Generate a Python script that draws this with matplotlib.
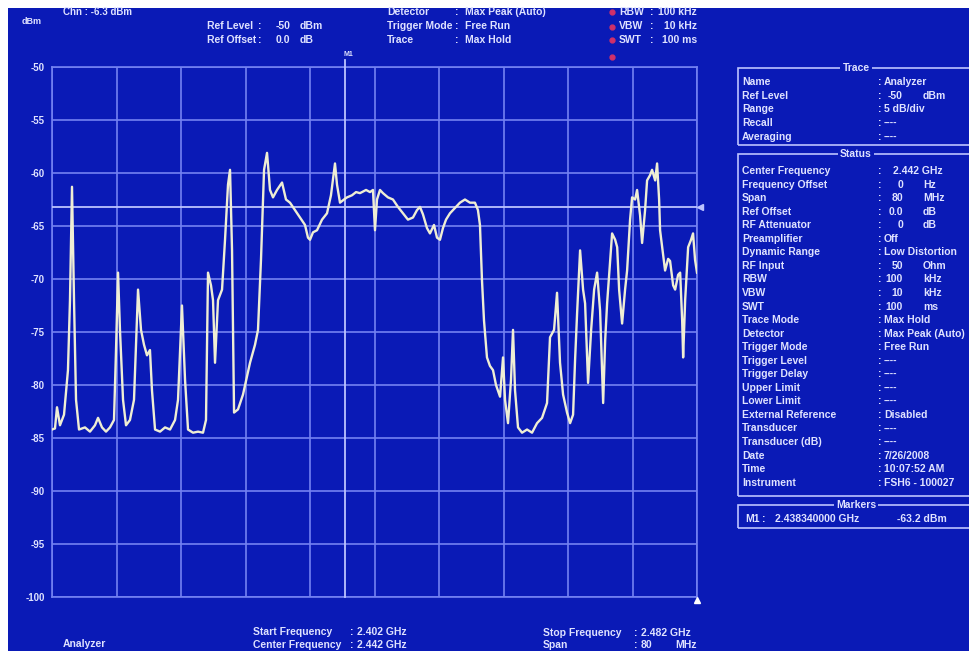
import matplotlib
matplotlib.use("Agg")
import matplotlib.pyplot as plt
from matplotlib.patches import Rectangle
from matplotlib.lines import Line2D

# ---- measured spectrum (max hold) ----
freq_mhz = [
    2402.00, 2402.37, 2402.62, 2402.99, 2403.49, 2403.98, 2404.23, 2404.48, 2404.73, 2404.98,
    2405.35, 2406.09, 2406.71, 2407.33, 2407.71, 2408.20, 2408.70, 2409.19, 2409.69, 2409.94,
    2410.19, 2410.43, 2410.81, 2411.18, 2411.67, 2412.17, 2412.67, 2413.04, 2413.41, 2413.78,
    2414.15, 2414.40, 2414.78, 2415.40, 2416.02, 2416.64, 2417.26, 2417.63, 2418.12, 2418.50,
    2418.87, 2419.49, 2420.11, 2420.73, 2421.10, 2421.35, 2421.72, 2421.97, 2422.22, 2422.59,
    2423.09, 2423.46, 2423.83, 2424.08, 2424.33, 2424.58, 2425.07, 2425.69, 2426.56, 2427.18,
    2427.55, 2427.92, 2428.30, 2428.67, 2429.04, 2429.41, 2429.91, 2430.53, 2431.02, 2431.52,
    2432.14, 2432.76, 2433.38, 2433.75, 2434.00, 2434.37, 2434.87, 2435.49, 2436.11, 2436.60,
    2437.10, 2437.35, 2437.72, 2438.22, 2438.59, 2439.21, 2439.71, 2440.20, 2440.95, 2441.44,
    2441.81, 2442.06, 2442.31, 2442.68, 2443.05, 2443.67, 2444.29, 2444.91, 2445.53, 2446.15,
    2446.77, 2447.27, 2447.64, 2448.01, 2448.51, 2448.88, 2449.38, 2449.75, 2450.12, 2450.49,
    2450.87, 2451.36, 2451.98, 2452.60, 2453.22, 2453.84, 2454.46, 2454.83, 2455.08, 2455.33,
    2455.58, 2455.95, 2456.32, 2456.70, 2457.07, 2457.57, 2457.94, 2458.19, 2458.56, 2458.93,
    2459.18, 2459.43, 2459.80, 2460.30, 2460.92, 2461.54, 2462.16, 2462.78, 2463.40, 2463.77,
    2464.27, 2464.64, 2465.01, 2465.39, 2465.88, 2466.26, 2466.63, 2466.88, 2467.13, 2467.50,
    2467.87, 2468.12, 2468.49, 2468.87, 2469.24, 2469.61, 2469.98, 2470.36, 2470.61, 2470.85,
    2471.23, 2471.47, 2471.85, 2472.10, 2472.34, 2472.71, 2473.08, 2473.33, 2473.70, 2473.95,
    2474.32, 2474.57, 2474.94, 2475.19, 2475.56, 2475.81, 2476.18, 2476.43, 2476.81, 2477.05,
    2477.30, 2477.42, 2477.80, 2478.04, 2478.42, 2478.66, 2479.04, 2479.29, 2479.66, 2479.91,
    2480.16, 2480.28, 2480.53, 2480.90, 2481.26, 2481.51, 2481.76, 2482.00,
]
level_dbm = [
    -84.2, -84.1, -82.1, -83.8, -82.8, -78.6, -72.0, -61.3, -72.0, -81.4,
    -84.2, -84.0, -84.4, -83.8, -83.1, -84.0, -84.4, -84.0, -83.3, -76.7,
    -69.4, -74.8, -81.4, -83.8, -83.3, -81.4, -71.0, -74.8, -76.2, -77.2,
    -76.7, -80.5, -84.2, -84.4, -84.0, -84.2, -83.3, -81.4, -72.5, -79.5,
    -84.2, -84.5, -84.4, -84.5, -83.3, -69.4, -70.6, -72.0, -77.9, -72.0,
    -71.0, -66.3, -61.1, -59.7, -67.3, -82.6, -82.3, -80.9, -77.9, -76.2,
    -74.8, -68.2, -59.7, -58.1, -61.6, -62.3, -61.6, -60.9, -62.5, -62.8,
    -63.5, -64.2, -64.9, -66.1, -66.3, -65.6, -65.4, -64.4, -63.8, -62.1,
    -59.1, -61.1, -62.8, -62.5, -62.3, -62.1, -61.8, -61.9, -61.6, -61.8,
    -61.6, -65.4, -62.5, -61.6, -61.9, -62.3, -62.5, -63.2, -63.8, -64.4,
    -64.2, -63.5, -63.2, -63.9, -65.2, -65.7, -64.9, -66.1, -66.3, -65.2,
    -64.4, -63.8, -63.3, -62.8, -62.5, -62.8, -62.8, -63.5, -64.9, -70.1,
    -73.9, -77.4, -78.2, -78.6, -80.0, -81.1, -77.4, -81.4, -83.6, -79.5,
    -74.8, -80.5, -84.0, -84.5, -84.2, -84.5, -83.6, -83.1, -81.7, -75.5,
    -74.8, -71.3, -77.9, -80.9, -82.6, -83.6, -82.8, -77.6, -73.2, -67.3,
    -71.0, -72.3, -79.8, -74.8, -71.0, -69.4, -73.0, -81.7, -75.8, -72.3,
    -68.2, -65.7, -66.3, -67.0, -71.0, -74.2, -71.0, -69.2, -64.4, -62.3,
    -62.5, -61.6, -64.0, -66.6, -63.5, -60.7, -60.2, -59.7, -60.7, -59.1,
    -62.5, -65.4, -67.7, -69.2, -68.1, -68.3, -70.6, -71.0, -69.6, -69.4,
    -73.9, -77.4, -72.0, -67.0, -66.3, -65.7, -68.2, -69.4,
]

# ---- display settings ----
y_ticks = [-50, -55, -60, -65, -70, -75, -80, -85, -90, -95, -100]
y_tick_labels = ["-50", "-55", "-60", "-65", "-70", "-75", "-80", "-85", "-90", "-95", "-100"]
start_mhz, stop_mhz = 2402.0, 2482.0
x_divisions = 10
marker_freq_mhz = 2438.34
marker_level_dbm = -63.2

header_left = [("Ref Level", ":", "-50", "dBm"), ("Ref Offset", ":", "0.0", "dB")]
header_mid = [("Detector", "Max Peak (Auto)"), ("Trigger Mode", "Free Run"), ("Trace", "Max Hold")]
header_right = [("RBW", "100 kHz"), ("VBW", "10 kHz"), ("SWT", "100 ms")]

trace_rows = [
    ("Name", "Analyzer", None),
    ("Ref Level", "-50", "dBm"),
    ("Range", "5 dB/div", None),
    ("Recall", "----", None),
    ("Averaging", "----", None),
]
status_rows = [
    ("Center Frequency", "2.442 GHz", "wide"),
    ("Frequency Offset", "0", "Hz"),
    ("Span", "80", "MHz"),
    ("Ref Offset", "0.0", "dB"),
    ("RF Attenuator", "0", "dB"),
    ("Preamplifier", "Off", None),
    ("Dynamic Range", "Low Distortion", None),
    ("RF Input", "50", "Ohm"),
    ("RBW", "100", "kHz"),
    ("VBW", "10", "kHz"),
    ("SWT", "100", "ms"),
    ("Trace Mode", "Max Hold", None),
    ("Detector", "Max Peak (Auto)", None),
    ("Trigger Mode", "Free Run", None),
    ("Trigger Level", "----", None),
    ("Trigger Delay", "----", None),
    ("Upper Limit", "----", None),
    ("Lower Limit", "----", None),
    ("External Reference", "Disabled", None),
    ("Transducer", "----", None),
    ("Transducer (dB)", "----", None),
    ("Date", "7/26/2008", None),
    ("Time", "10:07:52 AM", None),
    ("Instrument", "FSH6 - 100027", None),
]

BLUE = "#0a1ab6"
GRID = "#7482f2"
TEXT = "#dfe2ff"
TRACE = "#efeed4"
MARK = "#bcc3ff"
W, H = 969, 651

plt.rcParams["font.family"] = ["Liberation Sans", "DejaVu Sans"]

fig = plt.figure(figsize=(W / 100, H / 100), dpi=100, facecolor="white")
fig.patches.append(Rectangle((8 / W, 0), 1, 1 - 8 / H, transform=fig.transFigure,
                             facecolor=BLUE, edgecolor="none", zorder=-5))


def ftext(x, y, s, ha="left", size=7.5, color=TEXT, **kw):
    return fig.text(x / W, 1 - y / H, s, ha=ha, va="center", fontsize=size,
                    fontweight="bold", color=color, **kw)


# ---- spectrum axes ----
ax = fig.add_axes([52 / W, 1 - 597 / H, 645 / W, 530 / H])
ax.set_zorder(1)
ax.set_facecolor(BLUE)
ax.set_xlim(start_mhz, stop_mhz)
ax.set_ylim(y_ticks[-1], y_ticks[0])
step = (stop_mhz - start_mhz) / x_divisions
ax.set_xticks([start_mhz + i * step for i in range(x_divisions + 1)])
ax.set_xticklabels([])
ax.set_yticks(y_ticks)
ax.set_yticklabels(y_tick_labels)
ax.tick_params(axis="both", length=0, pad=5)
ax.tick_params(axis="y", labelsize=7, labelcolor=TEXT)
for lab in ax.get_yticklabels():
    lab.set_fontweight("bold")
ax.grid(True, color=GRID, lw=1.2)
for sp in ax.spines.values():
    sp.set_color(GRID)
    sp.set_linewidth(1.2)

ax.plot(freq_mhz, level_dbm, color=TRACE, lw=1.7, zorder=5)

# marker lines
ax.axhline(marker_level_dbm, color=MARK, lw=1.3, zorder=4)
ax.plot([marker_freq_mhz, marker_freq_mhz], [y_ticks[-1], y_ticks[0] + 0.7],
        color=MARK, lw=1.3, clip_on=False, zorder=4)
ax.text(marker_freq_mhz + 0.4, y_ticks[0] + 1.2, "M1", fontsize=5, color=TEXT,
        ha="center", va="center", fontweight="bold")
ax.plot([stop_mhz + 0.35], [marker_level_dbm], marker="<", ms=4, color=MARK,
        clip_on=False, zorder=6)
ax.plot([stop_mhz], [y_ticks[-1] - 0.3], marker="^", ms=5, color="white",
        clip_on=False, zorder=6)

# ---- header ----
ftext(22, 22, "dBm", size=6.5)
ftext(63, 12, "Chn : -6.3 dBm", size=7)
for i, (lab, colon, val, unit) in enumerate(header_left):
    y = 26 + 14 * i
    ftext(207, y, lab)
    ftext(258, y, colon)
    ftext(290, y, val, ha="right")
    ftext(300, y, unit)
for i, (lab, val) in enumerate(header_mid):
    y = 12 + 14 * i
    ftext(387, y, lab)
    ftext(455, y, ":")
    ftext(465, y, val)
for i, (lab, val) in enumerate(header_right):
    y = 12 + 14 * i
    ftext(619, y, lab)
    ftext(650, y, ":")
    ftext(697, y, val, ha="right")
for y in (12, 27, 40, 57):
    fig.add_artist(Line2D([612 / W], [1 - y / H], transform=fig.transFigure,
                          marker="o", ms=3.5, color="#d0306a", lw=0))

# ---- side panel ----
def panel(top, bottom, title):
    fig.patches.append(Rectangle((738 / W, 1 - bottom / H), (980 - 738) / W,
                                 (bottom - top) / H, transform=fig.transFigure,
                                 facecolor="none", edgecolor=MARK, lw=1.2))
    ftext(856, top, title, ha="center",
          bbox=dict(facecolor=BLUE, edgecolor="none", pad=1.5))


panel(68, 145, "Trace")
panel(154, 496, "Status")
panel(505, 528, "Markers")


def panel_rows(rows, y0, dy):
    for i, (lab, val, unit) in enumerate(rows):
        y = y0 + dy * i
        ftext(742, y, lab)
        ftext(878, y, ":")
        if unit == "wide":
            ftext(893, y, val)
        elif unit:
            ftext(903, y, val, ha="right")
            ftext(923, y, unit)
        else:
            ftext(884, y, val)


panel_rows(trace_rows, 82, 13.7)
panel_rows(status_rows, 171, 13.55)

ftext(745, 519, "M1")
ftext(762, 519, ":")
ftext(775, 519, f"{marker_freq_mhz / 1000:.9f} GHz")
ftext(897, 519, f"{marker_level_dbm:.1f} dBm")

# ---- footer ----
ftext(63, 644, "Analyzer")
ftext(253, 632, "Start Frequency")
ftext(350, 632, ":")
ftext(357, 632, f"{start_mhz / 1000:.3f} GHz")
ftext(253, 645, "Center Frequency")
ftext(350, 645, ":")
ftext(357, 645, f"{(start_mhz + stop_mhz) / 2000:.3f} GHz")
ftext(543, 633, "Stop Frequency")
ftext(634, 633, ":")
ftext(641, 633, f"{stop_mhz / 1000:.3f} GHz")
ftext(543, 645, "Span")
ftext(634, 645, ":")
ftext(652, 645, f"{stop_mhz - start_mhz:.0f}", ha="right")
ftext(675, 645, "MHz")

fig.savefig("out.png", dpi=100, facecolor=fig.get_facecolor())
